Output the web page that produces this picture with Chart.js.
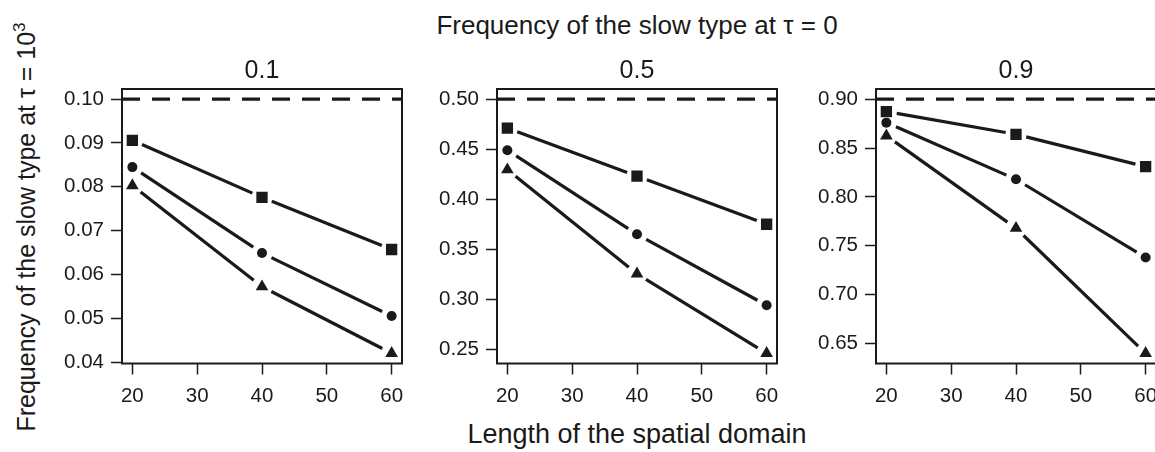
<!DOCTYPE html>
<html>
<head>
<meta charset="utf-8">
<script src="https://cdn.jsdelivr.net/npm/chart.js@4"></script>
<style>
  body { margin: 0; width: 1155px; height: 452px; overflow: hidden; background: #fff;
         font-family: 'Liberation Sans', Arial, sans-serif; color: #1a1a1a; position: relative; }
  .panel { position: absolute; top: 0; }
  .txt { position: absolute; white-space: nowrap; text-align: center; }
  #mainTitle { left: 337px; width: 600px; top: 12px; font-size: 26px; line-height: 26px; }
  #xTitle { left: 337px; width: 600px; top: 421px; font-size: 27px; line-height: 27px; }
  #yTitle { left: -274px; width: 600px; top: 214px; height: 26px; font-size: 25px; line-height: 26px;
            transform: rotate(-90deg); }
  .ptitle { top: 57px; width: 280px; font-size: 25px; line-height: 25px; }
</style>
</head>
<body>
<div id="mainTitle" class="txt">Frequency of the slow type at τ = 0</div>
<div id="yTitle" class="txt">Frequency of the slow type at τ = 10<span style="font-size:17px;position:relative;top:-10px">3</span></div>
<div id="xTitle" class="txt">Length of the spatial domain</div>

<script>
// domain lengths and axis ticks
const xValues = [20, 40, 60];
const xTicks = [20, 30, 40, 50, 60];

// initial frequency of the slow type (panel titles, dashed line)
const panelTitles = ['0.1', '0.5', '0.9'];
const initialFreq = [0.1, 0.5, 0.9];

// panel 0.1
const square01 = [0.0906, 0.0776, 0.0657];
const circle01 = [0.0845, 0.0649, 0.0505];
const triangle01 = [0.0803, 0.0572, 0.0420];
const yTicks01 = [0.04, 0.05, 0.06, 0.07, 0.08, 0.09, 0.10];

// panel 0.5
const square05 = [0.471, 0.423, 0.375];
const circle05 = [0.449, 0.365, 0.294];
const triangle05 = [0.4295, 0.3255, 0.246];
const yTicks05 = [0.25, 0.30, 0.35, 0.40, 0.45, 0.50];

// panel 0.9
const square09 = [0.8873, 0.864, 0.831];
const circle09 = [0.876, 0.818, 0.738];
const triangle09 = [0.8625, 0.768, 0.640];
const yTicks09 = [0.65, 0.70, 0.75, 0.80, 0.85, 0.90];

const panels = [
    { title: panelTitles[0], init: initialFreq[0], sq: square01, ci: circle01, tr: triangle01, ticks: yTicks01 },
    { title: panelTitles[1], init: initialFreq[1], sq: square05, ci: circle05, tr: triangle05, ticks: yTicks05 },
    { title: panelTitles[2], init: initialFreq[2], sq: square09, ci: circle09, tr: triangle09, ticks: yTicks09 }
];

const ink = '#1a1a1a';
const boxLeft = [122, 497, 876];
const axisW = 120;
const tickFont = { family: "'Liberation Sans', Arial, sans-serif", size: 20.5 };

Chart.defaults.font.family = "'Liberation Sans', Arial, sans-serif";
Chart.defaults.color = ink;

// R style "b" lines: segments stop short of the markers
const gapLines = {
    id: 'gapLines',
    beforeDatasetsDraw(chart) {
        const ctx = chart.ctx;
        const gap = 10.5;
        ctx.save();
        ctx.strokeStyle = ink;
        ctx.lineWidth = 3.2;
        chart.data.datasets.forEach((ds, i) => {
            if (!ds.gapped) return;
            const pts = chart.getDatasetMeta(i).data;
            for (let k = 1; k < pts.length; k++) {
                const a = pts[k - 1], b = pts[k];
                const dx = b.x - a.x, dy = b.y - a.y, len = Math.hypot(dx, dy);
                const ux = dx / len, uy = dy / len;
                ctx.beginPath();
                ctx.moveTo(a.x + ux * gap, a.y + uy * gap);
                ctx.lineTo(b.x - ux * gap, b.y - uy * gap);
                ctx.stroke();
            }
        });
        ctx.restore();
    }
};

// box around the plot region
const frame = {
    id: 'frame',
    afterDatasetsDraw(chart) {
        const { ctx, chartArea: a } = chart;
        ctx.save();
        ctx.strokeStyle = ink;
        ctx.lineWidth = 2;
        ctx.strokeRect(a.left, a.top, a.right - a.left, a.bottom - a.top);
        ctx.restore();
    }
};

function toPoints(vals) {
    return vals.map((v, i) => ({ x: xValues[i], y: v }));
}

const xMin = 20 - 0.04 * 40, xMax = 60 + 0.04 * 40;

panels.forEach((p, i) => {
    const div = document.createElement('div');
    div.className = 'panel';
    div.style.left = (boxLeft[i] - axisW) + 'px';
    div.innerHTML = '<canvas width="430" height="452"></canvas>';
    document.body.appendChild(div);

    const t = document.createElement('div');
    t.className = 'txt ptitle';
    t.style.left = boxLeft[i] + 'px';
    t.textContent = p.title;
    document.body.appendChild(t);

    const all = p.sq.concat(p.ci, p.tr, [p.init]);
    const lo = Math.min(...all), hi = Math.max(...all);
    const pad = 0.04 * (hi - lo);

    const marker = (vals, style, r) => ({
        data: toPoints(vals),
        gapped: true,
        showLine: false,
        pointStyle: style,
        pointRadius: r,
        pointBackgroundColor: ink,
        pointBorderWidth: 0
    });

    new Chart(div.querySelector('canvas').getContext('2d'), {
        type: 'line',
        data: {
            datasets: [
                {
                    data: [{ x: xMin, y: p.init }, { x: xMax, y: p.init }],
                    borderColor: ink,
                    borderWidth: 3.2,
                    borderDash: [18, 12],
                    pointRadius: 0
                },
                marker(p.sq, 'rect', 8),
                marker(p.ci, 'circle', 5),
                marker(p.tr, 'triangle', 7.3)
            ]
        },
        options: {
            responsive: false,
            animation: false,
            layout: { padding: { top: 89, bottom: 28.5, left: 0, right: 30 } },
            plugins: { legend: { display: false }, tooltip: { enabled: false } },
            scales: {
                x: {
                    type: 'linear',
                    min: xMin,
                    max: xMax,
                    afterBuildTicks: axis => { axis.ticks = xTicks.map(v => ({ value: v })); },
                    afterFit: s => { s.height = 60; },
                    ticks: { font: tickFont, padding: 10, maxRotation: 0, callback: v => String(v) },
                    grid: { drawOnChartArea: false, tickLength: 11, tickWidth: 1.5, tickColor: ink },
                    border: { display: false }
                },
                y: {
                    min: lo - pad,
                    max: hi + pad,
                    afterBuildTicks: axis => { axis.ticks = p.ticks.map(v => ({ value: v })); },
                    afterFit: s => { s.width = axisW; },
                    ticks: { font: tickFont, padding: 7, callback: v => v.toFixed(2) },
                    grid: { drawOnChartArea: false, tickLength: 11, tickWidth: 1.5, tickColor: ink },
                    border: { display: false }
                }
            }
        },
        plugins: [gapLines, frame]
    });
});
</script>
</body>
</html>
